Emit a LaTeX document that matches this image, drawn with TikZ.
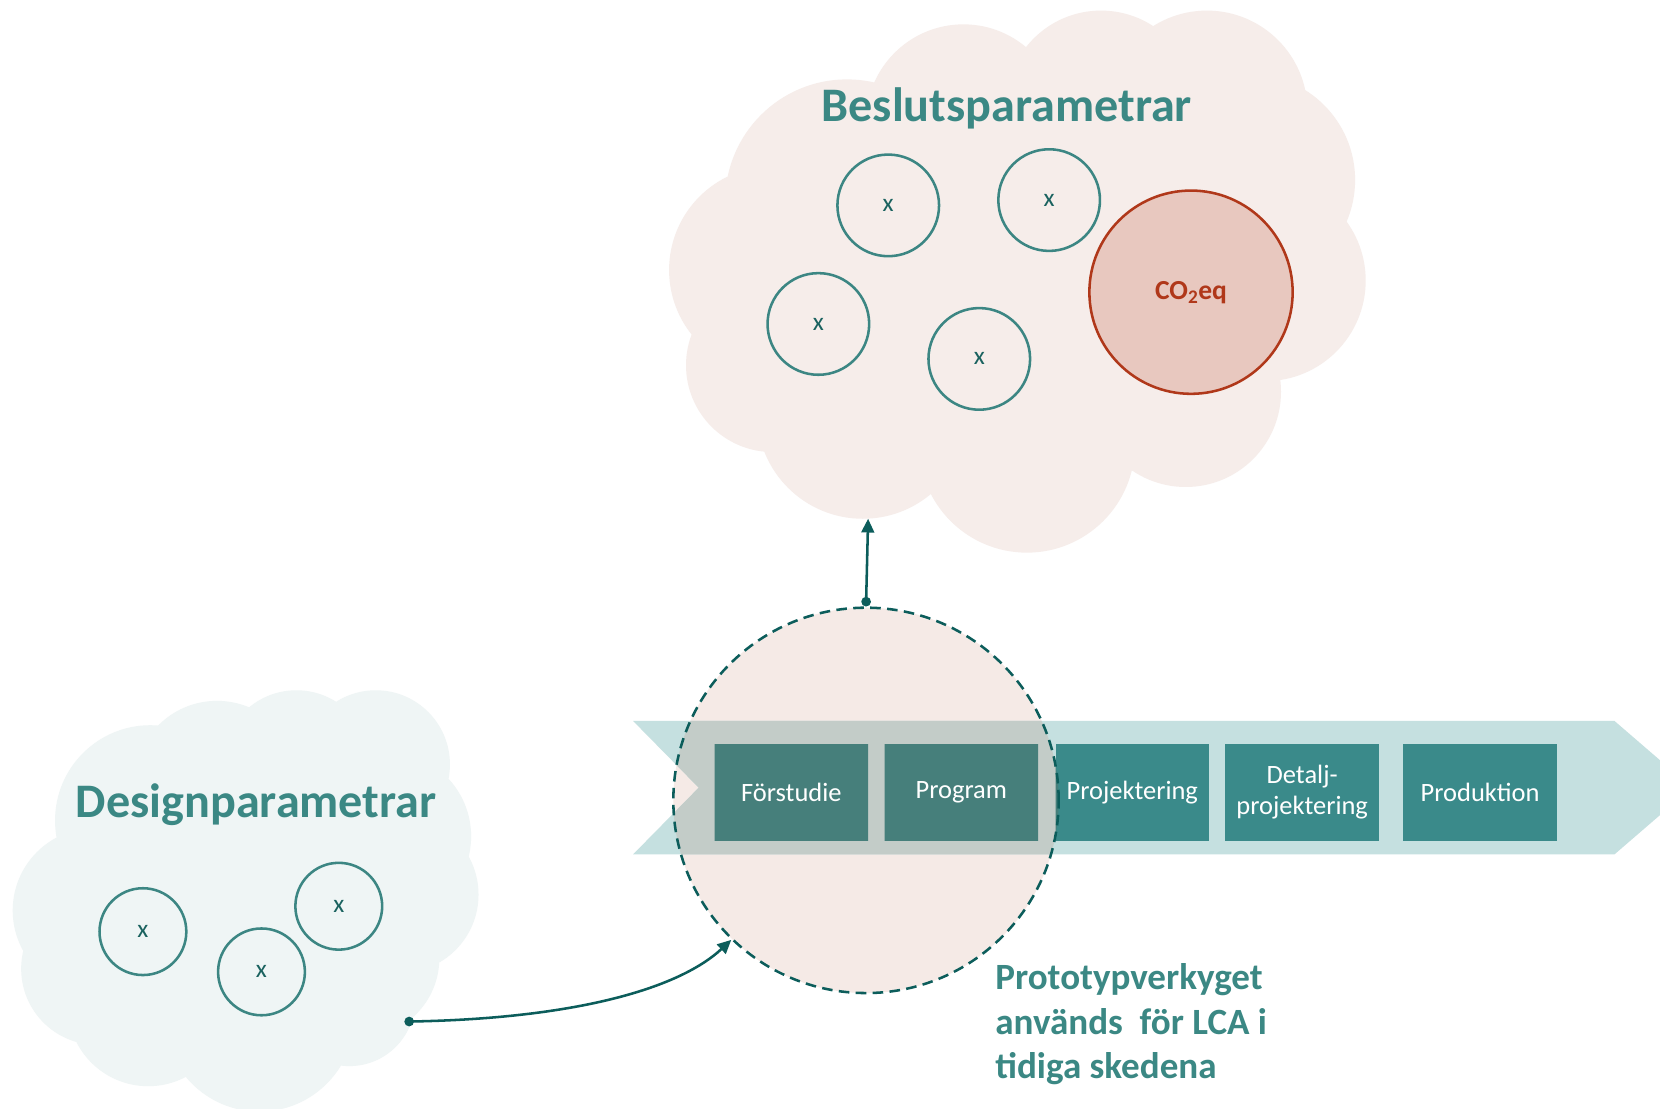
\documentclass[tikz,border=0pt]{standalone}
\usepackage{fontspec}
\setmainfont{Carlito}
\usetikzlibrary{arrows.meta}
\definecolor{topcloud}{HTML}{F6EDEA}
\definecolor{botcloud}{HTML}{EFF5F5}
\definecolor{titleteal}{HTML}{3B8884}
\definecolor{ringteal}{HTML}{3C8683}
\definecolor{xteal}{HTML}{1A625F}
\definecolor{darkteal}{HTML}{0C5D5B}
\definecolor{bandc}{HTML}{C5E0E0}
\definecolor{bandover}{HTML}{C3CCC8}
\definecolor{boxc}{HTML}{3A8A8A}
\definecolor{boxover}{HTML}{467F7B}
\definecolor{pinkc}{HTML}{F5EAE6}
\definecolor{co2fill}{HTML}{E8C8BF}
\definecolor{co2line}{HTML}{B0381A}
\begin{document}
\begin{tikzpicture}[x=1pt,y=-1pt,
  title/.style={font=\fontsize{45.5}{50}\selectfont\bfseries, text=titleteal, inner sep=0pt},
  xcirc/.style={circle, draw=ringteal, line width=2.4pt, minimum size=#1, inner sep=0pt,
    font=\fontsize{24}{26}\selectfont, text=xteal},
  xcirc/.default=96pt,
  stagebox/.style={rectangle, fill=boxc, minimum width=145pt, minimum height=91pt, inner sep=0pt,
    text=white, align=center, font=\fontsize{25}{29}\selectfont},
  overlaid/.style={path picture={\fill[boxover] (pc) circle[radius=182pt];}},
  conn/.style={draw=darkteal, line width=2.4pt, {Circle[length=9pt]}-{Triangle[length=13pt,width=12pt]}}
]
\useasboundingbox (0,0) rectangle (1568,1047);
\fill[white] (0,0) rectangle (1568,1047);

% top cloud
\fill[topcloud] (800,190) circle[radius=115pt] (910,115) circle[radius=92pt]
  (1040,100) circle[radius=90pt] (1140,105) circle[radius=95pt]
  (1180,170) circle[radius=100pt] (1195,265) circle[radius=95pt]
  (1120,370) circle[radius=90pt] (970,420) circle[radius=102pt]
  (815,390) circle[radius=100pt] (730,255) circle[radius=98pt]
  (730,345) circle[radius=82pt] (960,270) circle[radius=200pt];

% bottom-left cloud
\fill[botcloud] (142,775) circle[radius=90pt] (205,740) circle[radius=78pt]
  (280,722) circle[radius=70pt] (355,722) circle[radius=70pt]
  (365,790) circle[radius=80pt] (378,845) circle[radius=74pt]
  (340,905) circle[radius=75pt] (330,945) circle[radius=62pt]
  (245,960) circle[radius=90pt] (140,950) circle[radius=76pt]
  (90,860) circle[radius=78pt] (92,915) circle[radius=72pt]
  (230,850) circle[radius=150pt];

\coordinate (pc) at (818,756);
\coordinate (bcl) at (820,490);
\coordinate (dcl) at (382,965);

% pink fill of prototype circle
\fill[pinkc] (pc) circle[radius=182pt];

% chevron band
\fill[bandc] (598,681) -- (1525,681) -- (1598,744) -- (1525,807) -- (598,807) -- (660,744) -- cycle;
\begin{scope}
  \clip (pc) circle[radius=182pt];
  \fill[bandover] (598,681) -- (1525,681) -- (1598,744) -- (1525,807) -- (598,807) -- (660,744) -- cycle;
\end{scope}

% stages
\node[stagebox, overlaid] (s1) at (747.5,748.5) {Förstudie};
\node[stagebox, overlaid] (s2) at (908,748.5) {Program};
\node[stagebox, overlaid] (s3) at (1069.5,748.5) {Projektering};
\node[stagebox] (s4) at (1230,748.5) {Detalj-\\projektering};
\node[stagebox] (s5) at (1398,748.5) {Produktion};

% prototype circle outline
\node[circle, draw=darkteal, line width=2.4pt, dash pattern=on 10pt off 6pt,
  minimum size=364pt, inner sep=0pt] (proto) at (pc) {};

% titles
\node[title] (bes) at (951,102) {Beslutsparametrar};
\node[title] (des) at (242,760) {Designparametrar};

% decision parameters
\node[xcirc] (t1) at (839,194) {x};
\node[xcirc] (t2) at (991,189) {x};
\node[xcirc] (t3) at (773,306) {x};
\node[xcirc] (t4) at (925,339) {x};
\node[circle, draw=co2line, fill=co2fill, line width=2.4pt, minimum size=192pt, inner sep=0pt,
  text=co2line, font=\fontsize{26}{28}\selectfont\bfseries] (co2) at (1125,276) {CO\textsubscript{2}eq};

% design parameters
\node[xcirc=82pt] (d1) at (135,880) {x};
\node[xcirc=82pt] (d2) at (247,918) {x};
\node[xcirc=82pt] (d3) at (320,856) {x};

% connectors
\draw[conn] (proto.north) -- (bcl);
\draw[conn] (dcl) .. controls (540,962) and (640,935) .. (proto.226);

% note
\node[anchor=north west, align=left, inner sep=0pt, text=titleteal,
  font=\fontsize{35}{42}\selectfont\bfseries] (note) at (940,910)
  {Prototypverkyget\\används\ \ för LCA i\\tidiga skedena};
\end{tikzpicture}
\end{document}
